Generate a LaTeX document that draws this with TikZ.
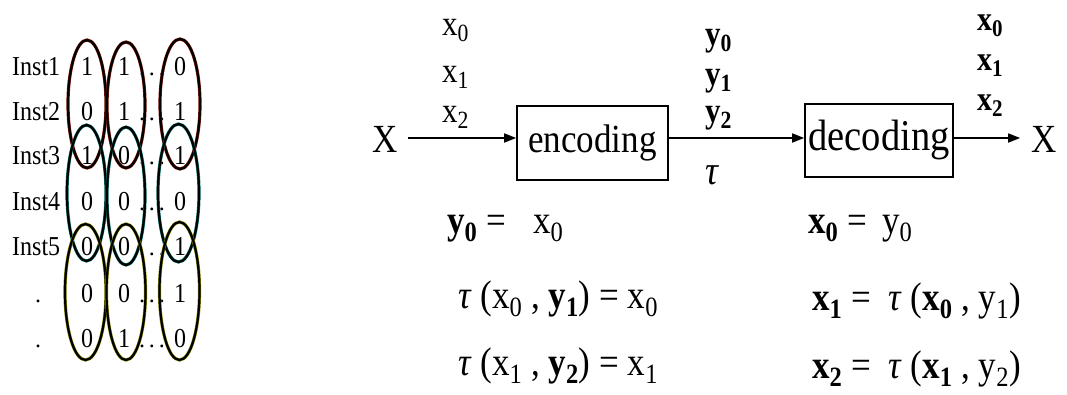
\documentclass[tikz,border=0pt]{standalone}
\usepackage{graphicx}
\usepackage{fontspec}
\setmainfont{Liberation Serif}
\usetikzlibrary{arrows.meta}
\definecolor{ellred}{HTML}{8A1A0A}
\definecolor{ellteal}{HTML}{0A7A70}
\definecolor{ellolive}{HTML}{8A8A00}
\newcommand\vs[1]{\scalebox{1}[1.14]{#1}}
\begin{document}
\begin{tikzpicture}[x=1pt,y=-1pt,
  inst/.style={font=\fontsize{24}{24}\selectfont, inner sep=0pt, anchor=base west},
  dig/.style={font=\fontsize{24}{24}\selectfont, inner sep=0pt, anchor=base},
  ell/.style={line width=3.2pt, postaction={draw=black, line width=2.2pt}},
  lab/.style={font=\fontsize{31}{31}\selectfont, inner sep=0pt, anchor=base west},
  rlab/.style={font=\fontsize{30}{30}\selectfont, inner sep=0pt, anchor=base west},
  eq/.style={font=\fontsize{35}{35}\selectfont, inner sep=0pt, anchor=base west},
  big/.style={font=\fontsize{35}{35}\selectfont},
  box/.style={draw, line width=1.6pt, inner sep=0pt},
  arr/.style={line width=1.6pt, -{Triangle[length=12pt,width=9pt]}}
]
\useasboundingbox (0,0) rectangle (1067,394);
% ---------- left panel ----------
\node[inst] (i1) at (12,75) {\vs{Inst1}};
\node[inst] (i2) at (12,120) {\vs{Inst2}};
\node[inst] (i3) at (12,164) {\vs{Inst3}};
\node[inst] (i4) at (12,210) {\vs{Inst4}};
\node[inst] (i5) at (12,255) {\vs{Inst5}};
\node[dig] (i6) at (38,302) {.};
\node[dig] (i7) at (38,347) {.};
\foreach \r/\y/\a/\b/\c in {1/75/1/1/0, 2/120/0/1/1, 3/164/1/0/1, 4/210/0/0/0, 5/255/0/0/1, 6/302/0/0/1, 7/347/0/1/0}{
  \node[dig] (a\r) at (87,\y) {\vs{\a}};
  \node[dig] (b\r) at (124,\y) {\vs{\b}};
  \node[dig] (c\r) at (180,\y) {\vs{\c}};
  \node[dig] (d\r) at (152,\y) {.\,.\,.};
}
\draw[ell, draw=ellred] (87,104) ellipse [x radius=19, y radius=64];
\draw[ell, draw=ellred] (126,105) ellipse [x radius=19, y radius=63];
\draw[ell, draw=ellred] (180,104) ellipse [x radius=20, y radius=65];
\draw[ell, draw=ellteal] (86.5,193) ellipse [x radius=19.5, y radius=68];
\draw[ell, draw=ellteal] (126,196) ellipse [x radius=19, y radius=69];
\draw[ell, draw=ellteal] (178.5,193) ellipse [x radius=20.5, y radius=69];
\draw[ell, draw=ellolive] (85.5,292) ellipse [x radius=20.5, y radius=68];
\draw[ell, draw=ellolive] (126,292) ellipse [x radius=19.5, y radius=68];
\draw[ell, draw=ellolive] (179.5,291) ellipse [x radius=20, y radius=69];
% ---------- right panel ----------
\node[big, inner sep=0pt] (xin) at (385,139) {\vs{X}};
\node[big, inner sep=0pt] (xout) at (1044,139) {\vs{X}};
\node[box, minimum width=151, minimum height=74, font=\fontsize{35}{35}\selectfont] (enc) at (592.5,143) {\vs{encoding}};
\node[box, minimum width=148, minimum height=73, font=\fontsize{38.5}{38.5}\selectfont] (dec) at (879,140.5) {\vs{decoding}};
\coordinate (xa) at (408,138);
\draw[arr] (xa) -- (enc.west |- xa);
\draw[arr] (enc.east |- xa) -- (dec.west |- xa);
\draw[arr] (dec.east |- xa) -- ([xshift=-11pt]xout.west |- xa);
% labels above
\node[lab] (lx0) at (442,35) {\vs{x\textsubscript{0}}};
\node[lab] (lx1) at (442,82) {\vs{x\textsubscript{1}}};
\node[lab] (lx2) at (442,122) {\vs{x\textsubscript{2}}};
\node[lab] (ly0) at (705,45) {\vs{\textbf{y\textsubscript{0}}}};
\node[lab] (ly1) at (705,85) {\vs{\textbf{y\textsubscript{1}}}};
\node[lab] (ly2) at (705,122) {\vs{\textbf{y\textsubscript{2}}}};
\node[lab, font=\fontsize{36}{36}\selectfont] (tau) at (705,184) {\vs{\textit{τ}}};
\node[rlab] (rx0) at (977,30) {\vs{\textbf{x\textsubscript{0}}}};
\node[rlab] (rx1) at (977,70) {\vs{\textbf{x\textsubscript{1}}}};
\node[rlab] (rx2) at (977,110) {\vs{\textbf{x\textsubscript{2}}}};
% equations left
\node[eq] (e1a) at (447,233) {\vs{\textbf{y\textsubscript{0}} =}};
\node[eq] (e1b) at (533,233) {\vs{x\textsubscript{0}}};
\node[eq] (e2) at (458,308) {\vs{\textit{τ} (x\textsubscript{0} , \textbf{y\textsubscript{1}}) = x\textsubscript{0}}};
\node[eq] (e3) at (458,375) {\vs{\textit{τ} (x\textsubscript{1} , \textbf{y\textsubscript{2}}) = x\textsubscript{1}}};
% equations right
\node[eq] (f1a) at (808,233) {\vs{\textbf{x\textsubscript{0}} =}};
\node[eq] (f1b) at (882,233) {\vs{y\textsubscript{0}}};
\node[eq] (f2) at (812,310) {\vs{\textbf{x\textsubscript{1}} = ~\textit{τ} (\textbf{x\textsubscript{0}} , y\textsubscript{1})}};
\node[eq] (f3) at (812,378) {\vs{\textbf{x\textsubscript{2}} = ~\textit{τ} (\textbf{x\textsubscript{1}} , y\textsubscript{2})}};
\end{tikzpicture}
\end{document}
